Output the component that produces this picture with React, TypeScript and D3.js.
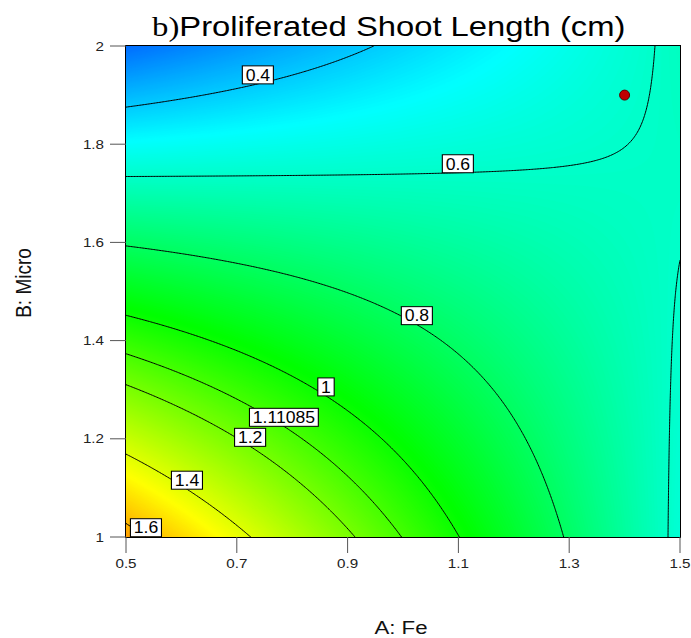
import { useEffect, useRef } from "react";
import * as d3 from "d3";

const WIDTH = 691;
const HEIGHT = 638;

const modelTerms = ["Intercept", "A", "B", "AB"];
const modelCoefs = [4.3132, -2.518, -2.1432, 1.456];

const feTicks = [0.5, 0.7, 0.9, 1.1, 1.3, 1.5];
const microTicks = [1, 1.2, 1.4, 1.6, 1.8, 2];

const contourLevels = [0.4, 0.6, 0.8, 1, 1.11085, 1.2, 1.4, 1.6];
// Fe value where each contour label sits
const labelFe = [0.738, 1.099, 1.025, 0.861, 0.785, 0.724, 0.61, 0.536];

const designFe = [1.4];
const designMicro = [1.9];

const colorValues = [0.02, 0.5, 0.98, 1.46, 1.94];
const colorRange = ["#0000ff", "#00ffff", "#00ff00", "#ffff00", "#ff0000"];

const termValue = {
  Intercept: () => 1,
  A: (a) => a,
  B: (a, b) => b,
  AB: (a, b) => a * b,
};

const predict = (a, b) =>
  d3.sum(modelTerms, (t, i) => modelCoefs[i] * termValue[t](a, b));

const App = () => {
  const svgRef = useRef(null);

  useEffect(() => {
    const svg = d3.select(svgRef.current);
    svg.selectAll("*").remove();

    const sans = "'Liberation Sans', Arial, sans-serif";
    const serif = "'Liberation Serif', 'Times New Roman', serif";
    const stretch = 1.17;

    const x = d3.scaleLinear().domain([0.5, 1.5]).range([126, 680]);
    const y = d3.scaleLinear().domain([1, 2]).range([537, 46]);

    const color = d3
      .scaleLinear()
      .domain(colorValues)
      .range(colorRange)
      .interpolate(d3.interpolateRgb)
      .clamp(true);

    svg
      .append("defs")
      .append("clipPath")
      .attr("id", "plot-clip")
      .append("rect")
      .attr("x", x(0.5))
      .attr("y", y(2))
      .attr("width", x(1.5) - x(0.5))
      .attr("height", y(1) - y(2));

    const makeGrid = (nx, ny) => {
      const gx = d3.scaleLinear().domain([0.5, nx - 0.5]).range([x(0.5), x(1.5)]);
      const gy = d3.scaleLinear().domain([0.5, ny - 0.5]).range([y(2), y(1)]);
      const values = new Array(nx * ny);
      for (let j = 0; j < ny; j++) {
        for (let i = 0; i < nx; i++) {
          values[j * nx + i] = predict(x.invert(gx(i + 0.5)), y.invert(gy(j + 0.5)));
        }
      }
      const path = d3.geoPath(
        d3.geoTransform({
          point(px, py) {
            this.stream.point(gx(px), gy(py));
          },
        })
      );
      return { nx, ny, values, path };
    };

    const plot = svg.append("g").attr("clip-path", "url(#plot-clip)");

    // colour fill
    const fill = makeGrid(185, 164);
    const step = 0.005;
    const lo = Math.floor(d3.min(fill.values) / step) * step;
    const hi = d3.max(fill.values);
    const bands = d3
      .contours()
      .size([fill.nx, fill.ny])
      .thresholds(d3.range(lo, hi, step))(fill.values);
    plot
      .selectAll("path.band")
      .data(bands)
      .join("path")
      .attr("class", "band")
      .attr("d", fill.path)
      .attr("fill", (d) => color(d.value + step / 2))
      .attr("stroke", (d) => color(d.value + step / 2))
      .attr("stroke-width", 0.6);

    // contour lines
    const lineGrid = makeGrid(360, 320);
    const lines = d3
      .contours()
      .size([lineGrid.nx, lineGrid.ny])
      .thresholds(contourLevels)(lineGrid.values);
    plot
      .selectAll("path.level")
      .data(lines)
      .join("path")
      .attr("class", "level")
      .attr("d", lineGrid.path)
      .attr("fill", "none")
      .attr("stroke", "#000")
      .attr("stroke-width", 1);

    // plot frame
    svg
      .append("rect")
      .attr("x", x(0.5) - 0.5)
      .attr("y", y(2) - 0.5)
      .attr("width", x(1.5) - x(0.5) + 1)
      .attr("height", y(1) - y(2) + 1)
      .attr("fill", "none")
      .attr("stroke", "#000")
      .attr("stroke-width", 1);

    // contour labels, box bottom sitting on the line
    const solveMicro = (fe, level) => {
      let a = 1;
      let b = 2;
      for (let k = 0; k < 50; k++) {
        const m = (a + b) / 2;
        if ((predict(fe, a) - level) * (predict(fe, m) - level) <= 0) b = m;
        else a = m;
      }
      return (a + b) / 2;
    };
    const labels = svg.append("g");
    contourLevels.forEach((level, i) => {
      const fe = labelFe[i];
      const px = x(fe);
      const py = y(solveMicro(fe, level));
      const g = labels
        .append("g")
        .attr("transform", `translate(${px},${py - 9}) scale(1.1,1)`);
      const box = g.append("rect");
      const t = g
        .append("text")
        .attr("text-anchor", "middle")
        .attr("dy", "0.36em")
        .style("font-family", sans)
        .style("font-size", "16px")
        .attr("fill", "#000")
        .text(String(level));
      const w = t.node().getComputedTextLength() + 6;
      box
        .attr("x", -w / 2)
        .attr("y", -9)
        .attr("width", w)
        .attr("height", 18)
        .attr("fill", "#fff")
        .attr("stroke", "#000")
        .attr("stroke-width", 1);
    });

    // design point
    svg
      .append("g")
      .selectAll("circle")
      .data(designFe)
      .join("circle")
      .attr("cx", (d) => x(d))
      .attr("cy", (d, i) => y(designMicro[i]))
      .attr("r", 5)
      .attr("fill", "#c00000")
      .attr("stroke", "#5a0000")
      .attr("stroke-width", 1);

    // axes
    const axes = svg.append("g");
    axes
      .selectAll("line.xt")
      .data(feTicks)
      .join("line")
      .attr("class", "xt")
      .attr("x1", (d) => x(d))
      .attr("x2", (d) => x(d))
      .attr("y1", y(1))
      .attr("y2", y(1) + 16)
      .attr("stroke", "#555");
    axes
      .selectAll("text.xl")
      .data(feTicks)
      .join("text")
      .attr("class", "xl")
      .attr("transform", (d) => `translate(${x(d)},${y(1) + 31}) scale(${stretch},1)`)
      .attr("text-anchor", "middle")
      .style("font-family", sans)
      .style("font-size", "13px")
      .attr("fill", "#222")
      .text((d) => String(d));
    axes
      .selectAll("line.yt")
      .data(microTicks)
      .join("line")
      .attr("class", "yt")
      .attr("x1", x(0.5) - 16)
      .attr("x2", x(0.5))
      .attr("y1", (d) => y(d))
      .attr("y2", (d) => y(d))
      .attr("stroke", "#555");
    axes
      .selectAll("text.yl")
      .data(microTicks)
      .join("text")
      .attr("class", "yl")
      .attr("transform", (d) => `translate(${x(0.5) - 22},${y(d)}) scale(${stretch},1)`)
      .attr("text-anchor", "end")
      .attr("dy", "0.35em")
      .style("font-family", sans)
      .style("font-size", "13px")
      .attr("fill", "#222")
      .text((d) => String(d));

    svg
      .append("text")
      .attr("transform", `translate(401,634) scale(${stretch},1)`)
      .attr("text-anchor", "middle")
      .style("font-family", sans)
      .style("font-size", "19px")
      .attr("fill", "#111")
      .text("A: Fe");
    svg
      .append("text")
      .attr("transform", `translate(31,283) scale(${stretch},1) rotate(-90)`)
      .attr("text-anchor", "middle")
      .style("font-family", sans)
      .style("font-size", "19px")
      .attr("fill", "#111")
      .text("B: Micro");

    // title
    const title = svg
      .append("text")
      .attr("transform", `translate(152,36) scale(${stretch},1)`)
      .style("font-size", "28px")
      .attr("fill", "#000");
    title.append("tspan").style("font-family", serif).text("b)");
    title.append("tspan").style("font-family", sans).text("Proliferated Shoot Length (cm)");
  }, []);

  return (
    <svg
      ref={svgRef}
      width={WIDTH}
      height={HEIGHT}
      style={{ position: "absolute", left: 0, top: 0, display: "block", background: "#fff" }}
    ></svg>
  );
};

export default App;
